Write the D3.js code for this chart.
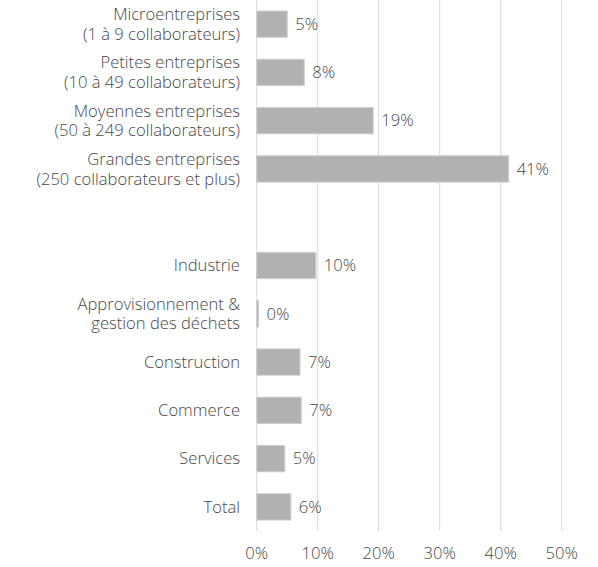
<!DOCTYPE html>
<html><head><meta charset="utf-8">
<script src="https://cdn.jsdelivr.net/npm/d3@7"></script>
<style>
html,body{margin:0;padding:0;background:#fff;}
text{font-family:"Open Sans",sans-serif;fill:#474747;font-weight:300;}
</style></head>
<body><svg id="c" width="598" height="567"></svg>
<script>
const categories = [
  ["Microentreprises","(1 à 9 collaborateurs)"],
  ["Petites entreprises","(10 à 49 collaborateurs)"],
  ["Moyennes entreprises","(50 à 249 collaborateurs)"],
  ["Grandes entreprises","(250 collaborateurs et plus)"],
  [],
  ["Industrie"],
  ["Approvisionnement &","gestion des déchets"],
  ["Construction"],
  ["Commerce"],
  ["Services"],
  ["Total"]
];
const values = [5.0, 7.8, 19.1, 41.3, null, 9.7, 0.3, 7.1, 7.3, 4.6, 5.6];
const valueLabels = ["5%","8%","19%","41%","","10%","0%","7%","7%","5%","6%"];
const ticks = [0,10,20,30,40,50];
const tickLabels = ["0%","10%","20%","30%","40%","50%"];

const svg = d3.select("#c");
const x = d3.scaleLinear().domain([0,50]).range([256.7,561.7]);
const y = d3.scaleBand().domain(d3.range(categories.length)).range([0,531]).paddingInner(0.455).paddingOuter(0.227);

const fs = 16.6;
svg.append("g").selectAll("line").data(ticks).join("line")
  .attr("x1",d=>x(d)).attr("x2",d=>x(d)).attr("y1",0).attr("y2",531)
  .attr("stroke","#d9d9d9").attr("stroke-width",1);

const idx = d3.range(categories.length).filter(i=>values[i]!==null);
svg.append("g").selectAll("rect").data(idx).join("rect")
  .attr("x",x(0)).attr("y",i=>y(i))
  .attr("width",i=>Math.max(0.5,x(values[i])-x(0)))
  .attr("height",y.bandwidth())
  .attr("fill","#b1b1b1").attr("stroke","#cfcfcf").attr("stroke-width",1);

svg.append("g").selectAll("text").data(idx).join("text")
  .attr("x",i=>x(values[i])+8).attr("y",i=>y(i)+y.bandwidth()/2)
  .attr("dy","0.35em").attr("font-size",fs).text(i=>valueLabels[i]);

const lines = [];
idx.forEach(i=>{
  const n = categories[i].length;
  categories[i].forEach((t,k)=>lines.push({i,t,off:(k-(n-1)/2)*19.5}));
});
svg.append("g").selectAll("text").data(lines).join("text")
  .attr("text-anchor","end").attr("font-size",fs)
  .attr("x",240)
  .attr("y",d=>y(d.i)+y.bandwidth()/2+d.off)
  .attr("dy","0.35em").text(d=>d.t);

svg.append("g").selectAll("text").data(ticks).join("text")
  .attr("x",d=>x(d)).attr("y",553).attr("dy","0.35em")
  .attr("text-anchor","middle").attr("font-size",fs)
  .text((d,i)=>tickLabels[i]);
</script></body></html>
